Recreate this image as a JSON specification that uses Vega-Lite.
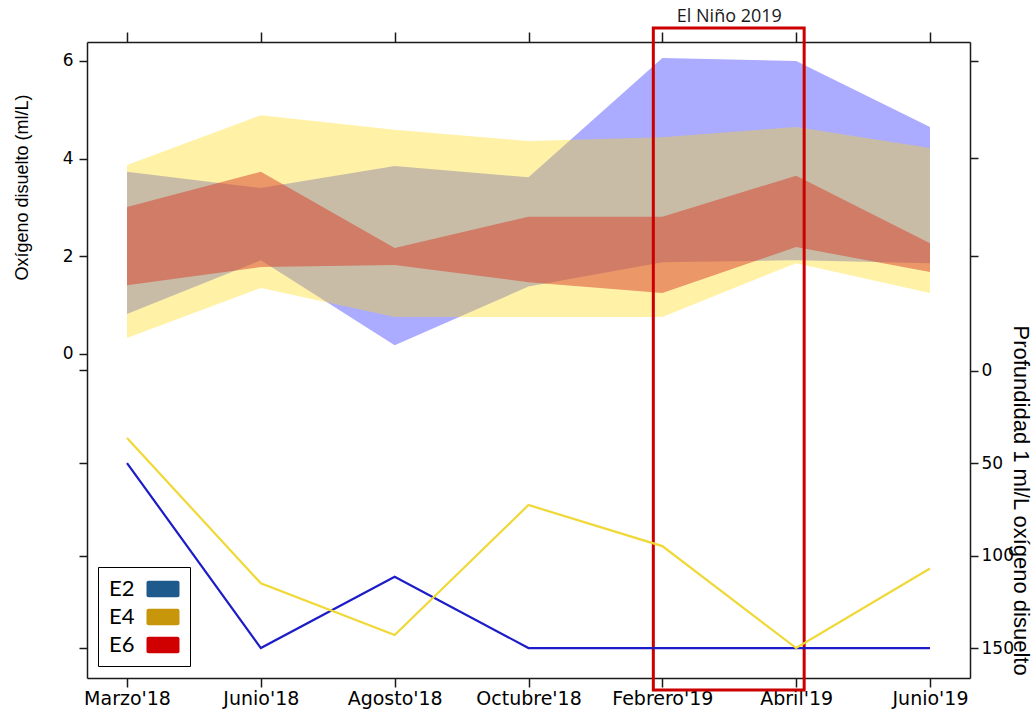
{
  "$schema": "https://vega.github.io/schema/vega-lite/v6.json",
  "width": 883,
  "height": 636,
  "autosize": {"type": "none"},
  "padding": {"left": 87, "top": 42, "right": 63, "bottom": 36},
  "background": "white",
  "config": {
    "view": {"stroke": null},
    "axis": {
      "grid": false,
      "domainColor": "#1a1a1a",
      "domainWidth": 1.5,
      "tickColor": "#1a1a1a",
      "tickWidth": 1.5,
      "tickSize": 8,
      "labelFont": "DejaVu Sans",
      "labelColor": "#000",
      "titleFont": "Liberation Sans",
      "titleColor": "#000",
      "titleFontWeight": "normal"
    }
  },
  "datasets": {
    "bands": [
      {"station": "E2", "month": "Marzo'18", "lo": 0.82, "hi": 3.73},
      {"station": "E2", "month": "Junio'18", "lo": 1.92, "hi": 3.40},
      {"station": "E2", "month": "Agosto'18", "lo": 0.18, "hi": 3.85},
      {"station": "E2", "month": "Octubre'18", "lo": 1.38, "hi": 3.62},
      {"station": "E2", "month": "Febrero'19", "lo": 1.88, "hi": 6.06},
      {"station": "E2", "month": "Abril'19", "lo": 1.92, "hi": 6.00},
      {"station": "E2", "month": "Junio'19", "lo": 1.86, "hi": 4.65},
      {"station": "E4", "month": "Marzo'18", "lo": 0.33, "hi": 3.87},
      {"station": "E4", "month": "Junio'18", "lo": 1.35, "hi": 4.89},
      {"station": "E4", "month": "Agosto'18", "lo": 0.76, "hi": 4.59},
      {"station": "E4", "month": "Octubre'18", "lo": 0.76, "hi": 4.36},
      {"station": "E4", "month": "Febrero'19", "lo": 0.76, "hi": 4.44},
      {"station": "E4", "month": "Abril'19", "lo": 1.86, "hi": 4.65},
      {"station": "E4", "month": "Junio'19", "lo": 1.25, "hi": 4.22},
      {"station": "E6", "month": "Marzo'18", "lo": 1.41, "hi": 3.01},
      {"station": "E6", "month": "Junio'18", "lo": 1.78, "hi": 3.73},
      {"station": "E6", "month": "Agosto'18", "lo": 1.82, "hi": 2.17},
      {"station": "E6", "month": "Octubre'18", "lo": 1.47, "hi": 2.81},
      {"station": "E6", "month": "Febrero'19", "lo": 1.25, "hi": 2.81},
      {"station": "E6", "month": "Abril'19", "lo": 2.19, "hi": 3.65},
      {"station": "E6", "month": "Junio'19", "lo": 1.68, "hi": 2.27}
    ],
    "depth": [
      {"station": "E2", "month": "Marzo'18", "depth": 50},
      {"station": "E2", "month": "Junio'18", "depth": 150},
      {"station": "E2", "month": "Agosto'18", "depth": 111.5},
      {"station": "E2", "month": "Octubre'18", "depth": 150},
      {"station": "E2", "month": "Febrero'19", "depth": 150},
      {"station": "E2", "month": "Abril'19", "depth": 150},
      {"station": "E2", "month": "Junio'19", "depth": 150},
      {"station": "E4", "month": "Marzo'18", "depth": 36.5},
      {"station": "E4", "month": "Junio'18", "depth": 115},
      {"station": "E4", "month": "Agosto'18", "depth": 143},
      {"station": "E4", "month": "Octubre'18", "depth": 72.7},
      {"station": "E4", "month": "Febrero'19", "depth": 94.9},
      {"station": "E4", "month": "Abril'19", "depth": 150},
      {"station": "E4", "month": "Junio'19", "depth": 107}
    ],
    "event": [
      {"label": "El Niño 2019", "start": "Febrero'19", "end": "Abril'19"}
    ]
  },
  "layer": [
    {
      "layer": [
        {
          "data": {"name": "bands"},
          "transform": [{"filter": "datum.station === 'E2'"}],
          "mark": {"type": "area", "color": "#0000ff", "opacity": 0.33},
          "encoding": {
            "x": {
              "field": "month", "type": "ordinal",
              "scale": {"type": "point", "domain": ["Marzo'18", "Junio'18", "Agosto'18", "Octubre'18", "Febrero'19", "Abril'19", "Junio'19"], "padding": 0.299},
              "sort": null,
              "axis": {"orient": "bottom", "title": null, "labelAngle": 0, "labelFontSize": 19, "labelPadding": 2, "tickSize": 9}
            },
            "y": {
              "field": "lo", "type": "quantitative",
              "scale": {"domain": [-6.635, 6.389], "nice": false, "zero": false},
              "axis": {
                "orient": "left",
                "title": "Oxígeno disuelto (ml/L)",
                "values": [0, 2, 4, 6, -0.338, -2.232, -4.137, -6.02],
                "labelExpr": "datum.value >= 0 ? datum.label : ''",
                "labelFontSize": 17,
                "labelPadding": 6,
                "titleFontSize": 18,
                "titleX": -65,
                "titleY": 145,
                "titleBaseline": "middle"
              }
            },
            "y2": {"field": "hi"}
          }
        },
        {
          "data": {"name": "bands"},
          "transform": [{"filter": "datum.station === 'E4'"}],
          "mark": {"type": "area", "color": "#ffdb0e", "opacity": 0.365},
          "encoding": {
            "x": {"field": "month", "type": "ordinal", "sort": null},
            "y": {"field": "lo", "type": "quantitative", "axis": {"title": "Oxígeno disuelto (ml/L)"}},
            "y2": {"field": "hi"}
          }
        },
        {
          "data": {"name": "bands"},
          "transform": [{"filter": "datum.station === 'E6'"}],
          "mark": {"type": "area", "color": "#d83c28", "opacity": 0.5},
          "encoding": {
            "x": {"field": "month", "type": "ordinal", "sort": null},
            "y": {"field": "lo", "type": "quantitative", "axis": {"title": "Oxígeno disuelto (ml/L)"}},
            "y2": {"field": "hi"}
          }
        },
        {
          "data": {"name": "bands"},
          "mark": {"type": "point", "filled": true, "opacity": 0},
          "encoding": {
            "x": {"field": "month", "type": "ordinal", "sort": null},
            "y": {"field": "hi", "type": "quantitative", "axis": {"title": "Oxígeno disuelto (ml/L)"}},
            "color": {
              "field": "station", "type": "nominal",
              "scale": {"domain": ["E2", "E4", "E6"], "range": ["#1e5a8c", "#c8960a", "#d00000"]},
              "legend": {
                "orient": "none", "legendX": 11, "legendY": 525,
                "title": null,
                "strokeColor": "#000",
                "fillColor": "#fff",
                "padding": 10,
                "symbolType": "M-1.22,-0.7H1.22Q1.4,-0.7 1.4,-0.52V0.52Q1.4,0.7 1.22,0.7H-1.22Q-1.4,0.7 -1.4,0.52V-0.52Q-1.4,-0.7 -1.22,-0.7Z",
                "symbolSize": 556,
                "symbolOffset": 43,
                "symbolStrokeWidth": 0,
                "symbolOpacity": 1,
                "labelOffset": -66,
                "labelFont": "Lato",
                "labelFontSize": 22,
                "labelColor": "#000",
                "rowPadding": 5
              }
            }
          }
        },
        {
          "data": {"name": "event"},
          "mark": {"type": "rect", "filled": false, "stroke": "#cc0000", "strokeWidth": 3, "xOffset": -9, "x2Offset": 8},
          "encoding": {
            "x": {"field": "start", "type": "ordinal", "sort": null},
            "x2": {"field": "end"},
            "y": {"datum": 6.676, "type": "quantitative"},
            "y2": {"datum": -6.881}
          }
        },
        {
          "data": {"name": "event"},
          "mark": {"type": "text", "font": "Open Sans", "fontSize": 18, "color": "#1a1a1a", "dx": 67, "baseline": "middle", "align": "center"},
          "encoding": {
            "x": {"field": "start", "type": "ordinal", "sort": null},
            "y": {"datum": 6.9, "type": "quantitative"},
            "text": {"field": "label"}
          }
        }
      ]
    },
    {
      "data": {"name": "depth"},
      "mark": {"type": "line", "strokeWidth": 2.2},
      "encoding": {
        "x": {
          "field": "month", "type": "ordinal", "sort": null,
          "axis": {"orient": "top", "title": null, "labels": false, "tickSize": 10}
        },
        "y": {
          "field": "depth", "type": "quantitative",
          "scale": {"domain": [-177.6, 166.2], "nice": false, "zero": false, "reverse": true},
          "axis": {
            "orient": "right",
            "title": "Profundidad 1 ml/L oxígeno disuelto",
            "values": [-167.3, -114.9, -61.9, 0, 50, 100, 150],
            "labelExpr": "datum.value >= 0 ? datum.label : ''",
            "labelFontSize": 17,
            "labelPadding": 3,
            "titleFontSize": 22,
            "titleAngle": 90,
            "titleAlign": "left",
            "titleBaseline": "middle",
            "titleX": 50,
            "titleY": 283
          }
        },
        "stroke": {
          "field": "station", "type": "nominal",
          "scale": {"domain": ["E2", "E4"], "range": ["#1c1cc8", "#f0d836"]},
          "legend": null
        }
      }
    }
  ],
  "resolve": {"scale": {"y": "independent"}, "axis": {"x": "independent"}}
}
